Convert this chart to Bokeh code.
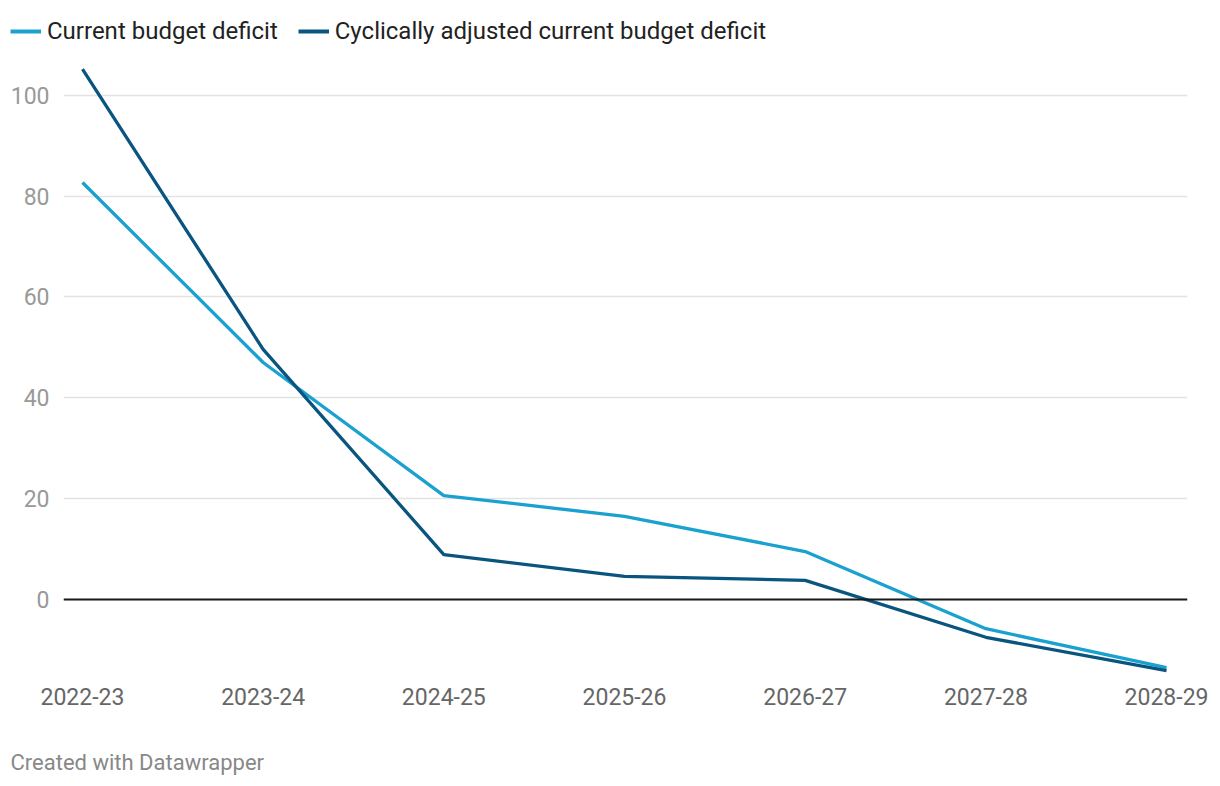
from bokeh.plotting import figure
from bokeh.layouts import column, row
from bokeh.models import Range1d, FixedTicker, Legend, LegendItem, Label, Span
from bokeh.embed import file_html
from bokeh.resources import INLINE

years = ["2022-23", "2023-24", "2024-25", "2025-26", "2026-27", "2027-28", "2028-29"]
current = [82.7, 47.0, 20.6, 16.5, 9.5, -5.8, -13.5]
cyclical = [105.2, 49.6, 8.9, 4.6, 3.8, -7.5, -14.1]
y_ticks = [0, 20, 40, 60, 80, 100]
series_names = ["Current budget deficit", "Cyclically adjusted current budget deficit"]
colors = ["#1aa1cf", "#0a5580"]

xs = list(range(len(years)))
W = 1212


def bare(height):
    f = figure(width=W, height=height, output_backend="svg", toolbar_location=None,
               x_range=Range1d(0, 1), y_range=Range1d(0, 1),
               x_axis_type=None, y_axis_type=None,
               min_border_left=0, min_border_right=0, min_border_top=0, min_border_bottom=0)
    f.outline_line_color = None
    f.xgrid.grid_line_color = None
    f.ygrid.grid_line_color = None
    return f


# ---- header with legend ----
h = bare(60)
# legend proxies: lines drawn outside the visible range, only used for the legend swatches
proxies = [h.line(x=[5, 6], y=[5, 6], line_color=c, line_width=4) for c in colors]
legend = Legend(items=[LegendItem(label=n, renderers=[r]) for n, r in zip(series_names, proxies)],
                orientation="horizontal", location=(10, 15),
                label_text_font="Roboto", label_text_font_size="24px", label_text_color="#222222",
                glyph_width=31, glyph_height=22, label_standoff=6, spacing=20,
                padding=0, margin=0, border_line_color=None, background_fill_alpha=0)
h.add_layout(legend, "center")

# ---- main chart ----
p = figure(width=W, height=660, output_backend="svg", toolbar_location=None,
           x_range=Range1d(-0.105, 6.116), y_range=Range1d(-16.07, 106.9),
           min_border_left=63, min_border_right=25, min_border_top=0, min_border_bottom=40)
p.outline_line_color = None
p.background_fill_color = "white"

p.xaxis.ticker = FixedTicker(ticks=xs)
p.xaxis.major_label_overrides = {i: y for i, y in enumerate(years)}
p.xaxis.axis_line_color = None
p.xaxis.major_tick_line_color = None
p.xaxis.minor_tick_line_color = None
p.xaxis.major_label_text_font = "Roboto"
p.xaxis.major_label_text_font_size = "23px"
p.xaxis.major_label_text_color = "#666666"
p.xaxis.major_label_standoff = 1

p.yaxis.ticker = FixedTicker(ticks=y_ticks)
p.yaxis.axis_line_color = None
p.yaxis.major_tick_line_color = None
p.yaxis.minor_tick_line_color = None
p.yaxis.major_label_text_font = "Roboto"
p.yaxis.major_label_text_font_size = "23px"
p.yaxis.major_label_text_color = "#999999"
p.yaxis.major_label_standoff = 8

p.xgrid.grid_line_color = None
p.ygrid.ticker = FixedTicker(ticks=y_ticks)
p.ygrid.grid_line_color = "#e3e3e3"
p.ygrid.grid_line_width = 1.6

zero = Span(location=0, dimension="width", line_color="#1a1a1a", line_width=2)
p.add_layout(zero)

p.line(xs, current, line_color=colors[0], line_width=3.3)
p.line(xs, cyclical, line_color=colors[1], line_width=3.3)

# ---- footer with credit ----
f = bare(64)
credit = Label(x=10, y=22, x_units="screen", y_units="screen", text="Created with Datawrapper",
               text_font="Roboto", text_font_size="22px", text_color="#888888",
               text_baseline="middle")
f.add_layout(credit)

layout = column(row(h), p, row(f), spacing=0)
open("out.html", "w").write(file_html(layout, INLINE))
